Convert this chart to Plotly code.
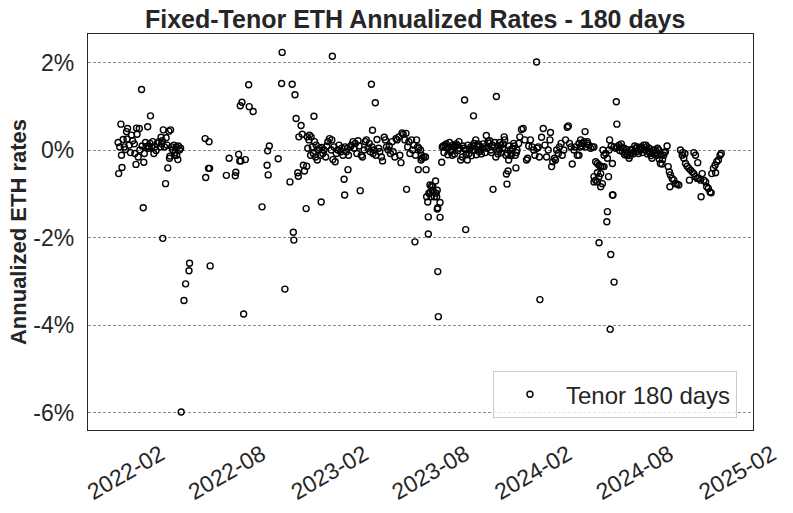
import plotly.graph_objects as go

# Fixed-tenor ETH annualized rates (percent), tenor 180 days
dates_2022a = ["2022-01-15", "2022-01-16", "2022-01-18", "2022-01-20", "2022-01-21", "2022-01-22", "2022-01-24",
               "2022-01-26", "2022-01-28", "2022-01-30", "2022-01-31", "2022-02-01", "2022-02-04", "2022-02-06",
               "2022-02-08", "2022-02-10", "2022-02-13", "2022-02-14", "2022-02-16", "2022-02-17", "2022-02-18",
               "2022-02-20", "2022-02-22", "2022-02-23", "2022-02-26", "2022-02-27", "2022-03-01", "2022-03-02",
               "2022-03-03", "2022-03-05", "2022-03-06", "2022-03-09", "2022-03-10", "2022-03-11", "2022-03-13",
               "2022-03-14", "2022-03-16", "2022-03-18", "2022-03-20", "2022-03-22", "2022-03-24", "2022-03-26",
               "2022-03-29", "2022-04-01", "2022-04-02", "2022-04-03", "2022-04-04", "2022-04-05", "2022-04-06",
               "2022-04-08", "2022-04-10", "2022-04-11", "2022-04-13", "2022-04-14", "2022-04-16", "2022-04-17",
               "2022-04-18", "2022-04-19", "2022-04-21", "2022-04-23", "2022-04-25", "2022-04-26", "2022-04-27",
               "2022-04-29", "2022-04-30", "2022-05-02", "2022-05-03", "2022-05-05", "2022-05-07", "2022-05-08",
               "2022-05-13", "2022-05-16", "2022-05-22", "2022-05-23"]
rates_2022a = [0.18, -0.53, 0.08, 0.60, -0.11, -0.39, 0.25,
               0.08, 0.02, 0.43, 0.26, 0.50, 0.12, -0.05,
               0.35, 0.22, 0.15, -0.07, -0.32, 0.51, 0.37,
               -0.15, 0.50, 0.01, 1.39, 0.10, -1.31, -0.27,
               -0.07, 0.18, 0.08, 0.54, 0.10, 0.05, 0.16,
               0.79, 0.08, 0.20, -0.07, 0.08, 0.00, 0.16,
               0.20, 0.08, 0.30, 0.15, 0.22, -2.01, 0.47,
               0.08, -0.76, 0.29, 0.12, -0.40, 0.44, -0.18,
               -0.13, 0.47, 0.08, 0.01, 0.12, -0.11, -0.05,
               0.08, -0.11, -0.21, 0.10, 0.01, 0.05, -5.98,
               -3.43, -3.05, -2.75, -2.58]

dates_2022b = ["2022-06-20", "2022-06-21", "2022-06-26", "2022-06-27", "2022-06-28", "2022-06-29", "2022-07-28",
               "2022-08-02", "2022-08-13", "2022-08-14", "2022-08-19", "2022-08-21", "2022-08-22", "2022-08-23",
               "2022-08-25", "2022-08-28", "2022-08-31", "2022-09-06", "2022-09-07", "2022-09-14", "2022-09-30",
               "2022-10-09", "2022-10-10", "2022-10-11", "2022-10-13", "2022-10-29", "2022-11-04", "2022-11-05",
               "2022-11-10", "2022-11-19", "2022-11-23", "2022-11-25", "2022-11-26", "2022-11-28", "2022-11-30",
               "2022-12-03", "2022-12-04", "2022-12-05", "2022-12-09", "2022-12-11", "2022-12-13", "2022-12-15",
               "2022-12-18", "2022-12-19", "2022-12-20", "2022-12-21", "2022-12-23", "2022-12-24", "2022-12-26",
               "2022-12-27", "2022-12-29", "2022-12-31"]
rates_2022b = [0.27, -0.62, -0.41, 0.20, -0.41, -2.64, -0.57,
               -0.18, -0.58, -0.50, -0.09, -0.24, 1.02, -0.24,
               1.10, -3.74, -0.21, 1.50, 1.00, 0.89, -1.29,
               -0.34, -0.01, -0.56, 0.10, -0.19, 1.53, 2.24,
               -3.17, -0.72, 1.51, -1.87, -2.05, 1.27, 0.73,
               -0.51, -0.59, 0.31, 0.57, 0.37, -0.34, -0.47,
               -1.33, -0.36, 0.31, 0.05, 0.24, 0.35, -0.11,
               0.31, 0.08, -0.07]

dates_2023a = ["2023-01-01", "2023-01-02", "2023-01-04", "2023-01-05", "2023-01-07", "2023-01-09", "2023-01-11",
               "2023-01-13", "2023-01-14", "2023-01-15", "2023-01-17", "2023-01-19", "2023-01-22", "2023-01-24",
               "2023-01-26", "2023-01-29", "2023-02-01", "2023-02-02", "2023-02-03", "2023-02-04", "2023-02-06",
               "2023-02-08", "2023-02-10", "2023-02-13", "2023-02-15", "2023-02-18", "2023-02-20", "2023-02-22",
               "2023-02-24", "2023-02-25", "2023-02-26", "2023-02-28", "2023-03-02", "2023-03-03", "2023-03-04",
               "2023-03-07", "2023-03-09", "2023-03-12", "2023-03-14", "2023-03-16", "2023-03-19", "2023-03-21",
               "2023-03-23", "2023-03-25", "2023-03-27", "2023-03-29", "2023-04-01", "2023-04-03", "2023-04-05",
               "2023-04-08", "2023-04-10", "2023-04-12", "2023-04-14", "2023-04-15", "2023-04-16", "2023-04-17",
               "2023-04-19", "2023-04-21", "2023-04-22", "2023-04-24", "2023-04-27", "2023-04-29", "2023-05-02",
               "2023-05-04", "2023-05-07", "2023-05-09", "2023-05-11", "2023-05-14", "2023-05-16", "2023-05-18",
               "2023-05-21", "2023-05-23", "2023-05-26", "2023-05-28", "2023-05-30", "2023-06-02", "2023-06-04",
               "2023-06-06", "2023-06-08", "2023-06-10", "2023-06-13", "2023-06-15", "2023-06-16", "2023-06-18",
               "2023-06-20", "2023-06-22", "2023-06-25", "2023-06-27", "2023-06-29"]
rates_2023a = [0.78, 0.20, -0.15, 0.12, -0.22, 0.01, 0.05,
               -0.11, -1.18, 0.07, -0.07, 0.01, -0.15, 0.10,
               0.20, 0.27, 0.01, 0.24, 2.15, -0.21, 0.08,
               -0.26, -0.07, 0.01, 0.12, -0.03, 0.05, -0.11,
               -0.66, -1.02, 0.08, -0.03, 0.05, -0.44, -0.11,
               0.08, 0.12, 0.20, 0.05, 0.16, -0.07, 0.22,
               0.10, -0.92, -0.11, -0.15, 0.01, 0.20, 0.24,
               0.05, 0.16, -0.03, 1.51, 0.08, 0.46, -0.07,
               0.01, 1.09, -0.11, 0.25, 0.05, -0.03, -0.15,
               -0.24, 0.30, 0.24, 0.08, 0.01, 0.10, -0.07,
               0.20, -0.03, -0.15, 0.27, 0.24, 0.31, -0.11,
               -0.28, 0.40, 0.37, 0.24, 0.39, -0.89, 0.08,
               0.20, -0.07, 0.24, 0.01, 0.12]

dates_2023b = ["2023-07-01", "2023-07-02", "2023-07-04", "2023-07-06", "2023-07-07", "2023-07-08", "2023-07-11",
               "2023-07-12", "2023-07-13", "2023-07-14", "2023-07-17", "2023-07-20", "2023-07-21", "2023-07-22",
               "2023-07-24", "2023-07-25", "2023-07-25", "2023-07-26", "2023-07-28", "2023-07-29", "2023-07-30",
               "2023-07-31", "2023-08-01", "2023-08-02", "2023-08-04", "2023-08-05", "2023-08-07", "2023-08-08",
               "2023-08-09", "2023-08-10", "2023-08-10", "2023-08-11", "2023-08-11", "2023-08-12", "2023-08-15",
               "2023-08-15", "2023-08-18", "2023-08-19", "2023-08-21", "2023-08-24", "2023-08-28", "2023-08-31",
               "2023-09-03", "2023-09-06", "2023-09-09", "2023-09-12", "2023-09-15", "2023-09-18", "2023-09-21",
               "2023-09-24", "2023-09-27", "2023-09-28", "2023-09-30", "2023-09-30", "2023-10-03", "2023-10-06",
               "2023-10-09", "2023-10-12", "2023-10-14", "2023-10-15", "2023-10-18", "2023-10-21", "2023-10-24",
               "2023-10-27", "2023-10-30", "2023-11-02", "2023-11-06", "2023-11-09", "2023-11-11", "2023-11-14",
               "2023-11-17", "2023-11-18", "2023-11-20", "2023-11-23", "2023-11-24", "2023-11-26", "2023-11-29",
               "2023-12-02", "2023-12-05", "2023-12-08", "2023-12-09", "2023-12-11", "2023-12-12", "2023-12-13",
               "2023-12-14", "2023-12-15", "2023-12-16", "2023-12-19", "2023-12-22", "2023-12-25", "2023-12-28",
               "2023-12-29", "2023-12-31",
               "2023-08-22", "2023-08-26", "2023-08-29", "2023-09-01", "2023-09-04", "2023-09-07", "2023-09-10",
               "2023-09-13", "2023-09-16", "2023-09-19", "2023-09-25", "2023-10-01", "2023-10-04", "2023-10-07",
               "2023-10-10", "2023-10-13", "2023-10-16", "2023-10-19", "2023-10-22", "2023-10-25", "2023-10-28",
               "2023-10-31", "2023-11-04", "2023-11-07", "2023-11-12", "2023-11-15", "2023-11-21", "2023-11-27",
               "2023-11-30", "2023-12-03", "2023-12-06", "2023-12-17", "2023-12-20", "2023-12-23", "2023-12-26",
               "2023-12-30"]
rates_2023b = [-2.09, -0.11, 0.24, 0.08, -0.44, 0.05, 0.01,
               -0.22, -0.11, -0.18, -0.15, -0.15, -0.44, -1.06,
               -1.18, -1.52, -1.91, -0.98, -0.79, -0.95, -1.06,
               -0.81, -0.91, -0.83, -0.95, -1.06, -0.70, -0.98,
               -1.06, -0.91, -1.34, -1.31, -2.77, -3.80, -1.19,
               -1.53, -0.27, 0.08, 0.10, 0.12, 0.05, 0.07,
               -0.03, -0.11, 0.08, 0.10, 0.12, 0.20, -0.22,
               -0.15, 0.05, 1.15, 0.01, -1.81, -0.22, -0.07,
               0.08, 0.01, 0.79, 0.16, 0.24, 0.08, -0.03,
               0.01, 0.05, 0.08, 0.34, 0.20, 0.16, 0.01,
               0.12, -0.89, 0.08, -0.15, 1.23, 0.10, 0.01,
               0.12, 0.05, 0.31, 0.24, -0.11, -0.54, -0.77,
               -0.07, -0.47, -0.22, 0.01, -0.07, 0.16, -0.11,
               -0.40, 0.01,
               -0.05, 0.15, -0.10, 0.18, 0.02, 0.12, -0.08,
               0.15, 0.00, 0.05, 0.10, -0.10, 0.12, 0.02,
               -0.12, 0.10, 0.00, -0.10, 0.15, 0.10, -0.08,
               0.15, -0.05, 0.05, 0.22, -0.05, 0.18, -0.08,
               0.18, -0.05, 0.15, 0.10, -0.12, 0.05, 0.10,
               -0.05]

dates_2024a = ["2024-01-03", "2024-01-05", "2024-01-08", "2024-01-11", "2024-01-14", "2024-01-17", "2024-01-19",
               "2024-01-21", "2024-01-24", "2024-01-27", "2024-01-30", "2024-02-01", "2024-02-04", "2024-02-05",
               "2024-02-07", "2024-02-09", "2024-02-10", "2024-02-13", "2024-02-16", "2024-02-19", "2024-02-22",
               "2024-02-25", "2024-02-28", "2024-02-29", "2024-03-02", "2024-03-04", "2024-03-07", "2024-03-09",
               "2024-03-11", "2024-03-14", "2024-03-16", "2024-03-19", "2024-03-21", "2024-03-24", "2024-03-27",
               "2024-03-30", "2024-04-01", "2024-04-03", "2024-04-06", "2024-04-08", "2024-04-11", "2024-04-14",
               "2024-04-17", "2024-04-20", "2024-04-20", "2024-04-23", "2024-04-23", "2024-04-26", "2024-04-26",
               "2024-04-29", "2024-05-01", "2024-05-02", "2024-05-05", "2024-05-05", "2024-05-08", "2024-05-11",
               "2024-05-14", "2024-05-17", "2024-05-17", "2024-05-17", "2024-05-20", "2024-05-20", "2024-05-23",
               "2024-05-23", "2024-05-23", "2024-05-26", "2024-05-26", "2024-05-26", "2024-05-29", "2024-05-29",
               "2024-05-29", "2024-06-01", "2024-06-01", "2024-06-02", "2024-06-04", "2024-06-04", "2024-06-07",
               "2024-06-09", "2024-06-10", "2024-06-10", "2024-06-12", "2024-06-13", "2024-06-14", "2024-06-15",
               "2024-06-16", "2024-06-17", "2024-06-19", "2024-06-19", "2024-06-20", "2024-06-22", "2024-06-22",
               "2024-06-25", "2024-06-26", "2024-06-27", "2024-06-28"]
rates_2024a = [0.16, 0.31, 0.48, 0.50, 0.24, -0.22, -0.18,
               0.10, 0.24, 0.08, 0.01, -0.11, 2.02, 0.05,
               0.08, -0.15, -3.41, 0.30, 0.50, 0.12, -0.15,
               0.01, 0.24, 0.41, -0.37, -0.26, -0.18, -0.22,
               0.01, -0.07, 0.08, 0.16, -0.11, 0.01, 0.24,
               0.53, 0.56, 0.16, 0.08, -0.31, 0.01, 0.08,
               -0.11, 0.16, -0.11, 0.24, 0.08, 0.10, 0.16,
               0.20, 0.43, 0.08, 0.20, 0.16, 0.12, 0.05,
               0.08, 0.08, -0.60, -0.72, -0.26, -0.68, -0.30,
               -0.72, -0.51, -0.34, -0.60, -2.11, -0.36, -0.83,
               -0.53, -0.37, -0.76, 0.01, -0.37, -0.11, -0.07,
               -1.63, -0.18, -1.40, -0.60, 0.01, 0.24, -4.09,
               -2.38, 0.10, -0.30, -1.02, -1.02, -3.01, 0.08,
               0.05, 1.11, 0.60, 0.08]

dates_2024b = ["2024-07-01", "2024-07-04", "2024-07-07", "2024-07-10", "2024-07-13", "2024-07-16", "2024-07-19",
               "2024-07-22", "2024-07-25", "2024-07-28", "2024-07-31", "2024-08-02", "2024-08-05", "2024-08-08",
               "2024-08-11", "2024-08-14", "2024-08-17", "2024-08-20", "2024-08-23", "2024-08-26", "2024-08-29",
               "2024-09-01", "2024-09-04", "2024-09-07", "2024-09-10", "2024-09-13", "2024-09-16", "2024-09-19",
               "2024-09-22", "2024-09-25", "2024-09-27", "2024-09-29", "2024-09-30", "2024-10-01", "2024-10-04",
               "2024-10-07", "2024-10-10", "2024-10-13", "2024-10-16", "2024-10-19", "2024-10-22", "2024-10-23",
               "2024-10-25", "2024-10-27", "2024-10-28", "2024-10-31", "2024-11-03", "2024-11-04", "2024-11-06",
               "2024-11-09", "2024-11-12", "2024-11-12", "2024-11-15", "2024-11-15", "2024-11-18", "2024-11-19",
               "2024-11-21", "2024-11-24", "2024-11-25", "2024-11-27", "2024-11-30", "2024-12-03", "2024-12-05",
               "2024-12-08", "2024-12-11", "2024-12-13", "2024-12-14", "2024-12-17", "2024-12-20", "2024-12-21",
               "2024-12-23", "2024-12-26", "2024-12-29", "2024-12-31",
               "2024-07-02", "2024-07-05", "2024-07-08", "2024-07-11", "2024-07-14", "2024-07-17", "2024-07-20",
               "2024-07-23", "2024-07-26", "2024-07-29", "2024-08-03", "2024-08-06", "2024-08-09", "2024-08-12",
               "2024-08-15", "2024-08-18", "2024-08-21", "2024-08-24", "2024-08-27", "2024-08-30", "2024-09-02",
               "2024-09-05", "2024-09-08", "2024-09-11", "2024-09-14", "2024-09-17", "2024-09-20"]
rates_2024b = [0.12, 0.08, -0.03, 0.05, -0.07, -0.11, -0.18,
               -0.07, 0.01, -0.03, 0.05, 0.08, -0.07, 0.01,
               0.05, 0.12, 0.01, 0.08, -0.03, -0.07, -0.18,
               0.01, 0.01, -0.11, 0.01, -0.30, -0.31, -0.11,
               -0.03, 0.10, -0.37, -0.49, -0.83, -0.56, -0.64,
               -0.68, -0.76, -0.77, -0.79, 0.01, -0.11, -0.05,
               -0.18, -0.07, -0.30, -0.36, -0.41, -0.68, -0.45,
               -0.49, -0.53, -0.05, -0.60, -0.11, -0.64, -0.28,
               -0.64, -0.68, -1.06, -0.53, -0.68, -0.72, -0.83,
               -0.87, -0.95, -0.97, -0.53, -0.41, -0.34, -0.51,
               -0.26, -0.22, -0.11, -0.07,
               0.00, 0.15, 0.05, -0.10, 0.02, -0.05, -0.12,
               0.02, -0.08, 0.10, -0.02, 0.05, 0.08, -0.05,
               0.02, 0.12, -0.08, 0.05, -0.12, -0.05, -0.08,
               -0.05, 0.05, -0.20, -0.10, -0.20, -0.05]

# Axis ticks
x_tick_dates = ["2022-02-01", "2022-08-01", "2023-02-01", "2023-08-01", "2024-02-01", "2024-08-01", "2025-02-01"]
x_tick_labels = ["2022-02", "2022-08", "2023-02", "2023-08", "2024-02", "2024-08", "2025-02"]
y_tick_values = [2, 0, -2, -4, -6]
y_tick_labels = ["2%", "0%", "-2%", "-4%", "-6%"]

dates = dates_2022a + dates_2022b + dates_2023a + dates_2023b + dates_2024a + dates_2024b
rates = rates_2022a + rates_2022b + rates_2023a + rates_2023b + rates_2024a + rates_2024b

text_color = "#262626"
font_family = "Liberation Sans, Arial, sans-serif"

fig = go.Figure()
fig.add_trace(go.Scatter(
    x=dates, y=rates, mode="markers", name="Tenor 180 days",
    marker=dict(symbol="circle-open", size=6, color="black", line=dict(width=1.4, color="black")),
))

fig.update_layout(
    width=793, height=513,
    margin=dict(l=88, r=40, t=34, b=83),
    plot_bgcolor="white", paper_bgcolor="white",
    font=dict(family=font_family, size=23, color=text_color),
    title=dict(text="Fixed-Tenor ETH Annualized Rates - 180 days",
               font=dict(family=font_family, size=25, color=text_color, weight="bold"),
               x=0.492, xref="paper", xanchor="center", y=0.963, yanchor="middle", yref="container"),
    legend=dict(x=0.609, xanchor="left", y=0.03, yanchor="bottom", itemwidth=62,
                bgcolor="rgba(255,255,255,0.8)", bordercolor="#cccccc", borderwidth=1,
                font=dict(size=24, color=text_color)),
    showlegend=True,
)

fig.update_xaxes(
    type="date", range=["2021-11-22", "2025-02-26"], automargin=False,
    tickvals=x_tick_dates, ticktext=x_tick_labels, tickangle=-30, ticks="",
    ticklabelshift=33, ticklabelstandoff=1,
    showgrid=False, zeroline=False,
    showline=True, mirror=True, linecolor=text_color, linewidth=1.25,
)
fig.update_yaxes(
    range=[-6.39, 2.66], automargin=False, tickvals=y_tick_values, ticktext=y_tick_labels, ticks="",
    ticklabelstandoff=8,
    showgrid=True, gridcolor="#8c8c8c", gridwidth=0.8, griddash="3px,2px", zeroline=False,
    showline=True, mirror=True, linecolor=text_color, linewidth=1.25,
    title=dict(text="Annualized ETH rates", font=dict(size=22, weight="bold", color=text_color), standoff=0),
)

# drop the browser's default 8px body margin so the figure fills the window
fig.write_html("out.html", config={"displayModeBar": False},
               post_script="document.body.style.margin = '0';")
